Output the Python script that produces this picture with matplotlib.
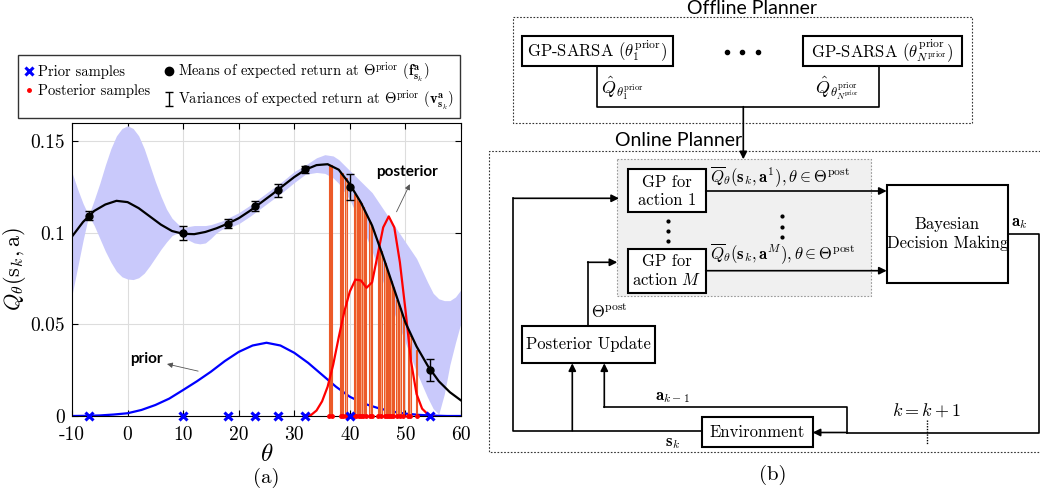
import numpy as np
import matplotlib
matplotlib.use('Agg')
import matplotlib.pyplot as plt
from matplotlib.lines import Line2D
from matplotlib.patches import Rectangle

plt.rcParams['font.family'] = 'cmr10'
plt.rcParams['mathtext.fontset'] = 'cm'
plt.rcParams['axes.unicode_minus'] = False
plt.rcParams['axes.formatter.use_mathtext'] = True

## data
# GP mean of expected return over theta
mean_x = [-10, -8, -6, -4, -2, 0, 2, 4, 6, 8, 10, 12, 14, 16, 18, 20, 22, 24, 26, 28, 30,
          32, 34, 36, 38, 40, 42, 44, 46, 48, 50, 52, 54, 56, 58, 60]
mean_y = [0.098, 0.106, 0.112, 0.1155, 0.1175, 0.1168, 0.1135, 0.109, 0.1045, 0.101, 0.0995,
          0.0993, 0.1005, 0.1025, 0.105, 0.108, 0.112, 0.1165, 0.121, 0.1258, 0.1305,
          0.1345, 0.137, 0.1375, 0.1345, 0.1265, 0.1165, 0.104, 0.087, 0.069, 0.051,
          0.038, 0.0275, 0.019, 0.013, 0.0085]

# shaded band
band_x = [-10, -9, -8, -7, -6, -5, -4, -3, -2, -1, 0, 1, 2, 3, 4, 5, 6, 7, 8, 9, 10, 11, 12,
          13, 14, 15, 16, 17, 18, 20, 22, 24, 26, 28, 30, 32, 34, 35.5, 37, 38, 40, 42, 44,
          46, 48, 50, 52, 54, 55, 56, 57, 58, 59, 60]
band_hi = [0.133, 0.124, 0.116, 0.1095, 0.118, 0.127, 0.137, 0.146, 0.153, 0.157, 0.1585,
           0.157, 0.153, 0.146, 0.137, 0.128, 0.120, 0.113, 0.108, 0.105, 0.1025, 0.1035,
           0.104, 0.104, 0.104, 0.1045, 0.1055, 0.1065, 0.108, 0.111, 0.115, 0.1195, 0.124,
           0.1285, 0.1335, 0.137, 0.141, 0.1427, 0.142, 0.140, 0.134, 0.128, 0.122, 0.113,
           0.104, 0.095, 0.086, 0.073, 0.067, 0.064, 0.063, 0.063, 0.065, 0.069]
band_lo = [0.066, 0.081, 0.096, 0.1095, 0.104, 0.097, 0.090, 0.084, 0.079, 0.076, 0.0748,
           0.0745, 0.0755, 0.078, 0.082, 0.0865, 0.091, 0.095, 0.0985, 0.1, 0.0975, 0.096,
           0.0945, 0.094, 0.0945, 0.097, 0.100, 0.102, 0.1025, 0.105, 0.109, 0.1135, 0.118,
           0.1225, 0.1275, 0.132, 0.133, 0.1325, 0.130, 0.127, 0.118, 0.105, 0.090, 0.073,
           0.056, 0.040, 0.024, 0.010, 0.004, 0.001, 0.012, 0.028, 0.040, 0.051]

# prior samples with means / variances of expected return
prior_theta = [-7, 10, 18, 23, 27, 32, 40, 54.5]
prior_mean = [0.1093, 0.100, 0.105, 0.1147, 0.1233, 0.1347, 0.125, 0.0249]
prior_err = [0.0025, 0.004, 0.0025, 0.0025, 0.0035, 0.002, 0.007, 0.006]

# prior density
prior_x = [-10, -7.5, -5, -2.5, 0, 2.5, 5, 7.5, 10, 12.5, 15, 17.5, 20, 22.5, 25, 27.5, 30,
           32.5, 35, 37.5, 40, 42.5, 45, 47.5, 50, 52.5, 55, 57.5, 60]
prior_y = [0.0, 0.0001, 0.0003, 0.0008, 0.0015, 0.0033, 0.006, 0.0095, 0.0142, 0.019, 0.0242,
           0.030, 0.035, 0.0385, 0.040, 0.0385, 0.0345, 0.029, 0.0225, 0.016, 0.0105, 0.0068,
           0.0044, 0.0025, 0.0013, 0.0006, 0.0002, 0.0, 0.0]

# posterior density
post_x = list(range(32, 56))
post_y = [0.0, 0.0005, 0.003, 0.008, 0.016, 0.028, 0.043, 0.057, 0.068, 0.0745, 0.074, 0.070,
          0.073, 0.088, 0.103, 0.109, 0.103, 0.084, 0.058, 0.030, 0.012, 0.004, 0.001, 0.0]

# posterior samples and their Q values
post_theta = [36.3, 36.7, 38.35, 38.7, 39.3, 40.8, 41.1, 41.6, 42.0, 42.4, 42.85, 43.6, 43.9,
              45.1, 45.6, 46.3, 46.6, 47.0, 47.4, 47.8, 48.5, 49.0, 49.6, 50.5, 50.8, 52.0]
post_q = [0.1372, 0.137, 0.1335, 0.1325, 0.130, 0.1215, 0.120, 0.1175, 0.1165, 0.114, 0.1105,
          0.106, 0.1035, 0.094, 0.090, 0.0835, 0.081, 0.077, 0.0735, 0.0705, 0.0635, 0.059,
          0.0525, 0.0455, 0.0435, 0.036]

xticks = [-10, 0, 10, 20, 30, 40, 50, 60]
xtick_labels = ['-10', '0', '10', '20', '30', '40', '50', '60']
yticks = [0, 0.05, 0.1, 0.15]
ytick_labels = ['0', '0.05', '0.1', '0.15']

W, H = 1040, 493
fig = plt.figure(figsize=(W / 100, H / 100), dpi=100)

# ---------- (a) plot ----------
ax = fig.add_axes([72 / W, 1 - 416 / H, 389 / W, 293 / H])
ax.fill_between(band_x, band_lo, band_hi, color='#c9c9fb', lw=0, zorder=1)
ax.plot(prior_x, prior_y, color='#0000ff', lw=1.6, zorder=2)
ax.bar(post_theta, post_q, width=0.25, facecolor='#f8b08c', edgecolor='#ec5a28', lw=0.8, zorder=3)
ax.plot(post_x, post_y, color='#ff0000', lw=1.6, zorder=4)
ax.plot(mean_x, mean_y, color='black', lw=1.6, zorder=5)
ax.errorbar(prior_theta, prior_mean, yerr=prior_err, fmt='o', color='black', ms=5,
            capsize=3, elinewidth=1, capthick=1, zorder=6)
ax.plot(post_theta, np.zeros(len(post_theta)), '.', color='red', ms=5, zorder=7, clip_on=False)
ax.plot(prior_theta, np.zeros(len(prior_theta)), 'x', color='#0000ff', ms=6, mew=2.2,
        zorder=8, clip_on=False)

ax.set_xlim(-10, 60)
ax.set_ylim(0, 0.16)
ax.set_xticks(xticks)
ax.set_xticklabels(xtick_labels)
ax.set_yticks(yticks)
ax.set_yticklabels(ytick_labels)
ax.tick_params(direction='in', top=True, right=True, labelsize=14, length=4, width=0.8)
ax.tick_params(axis='x', pad=7)
ax.tick_params(axis='y', pad=5)
ax.grid(True, color='#dddddd', lw=0.8)
ax.set_axisbelow(True)
for s in ax.spines.values():
    s.set_linewidth(0.8)
ax.set_xlabel(r'$\theta$', fontsize=18, labelpad=0)
ax.set_ylabel(r'$Q_\theta(\mathrm{s}_k,\mathrm{a})$', fontsize=16, labelpad=2)

arrow_style = dict(arrowstyle='-|>', color='#555555', lw=0.6, mutation_scale=8,
                   shrinkA=0, shrinkB=0)
ax.annotate('', xy=(7.1, 0.0284), xytext=(12.7, 0.0245), arrowprops=arrow_style)
ax.text(3.3, 0.031, 'prior', fontsize=11, fontweight='bold', family='Lato',
        ha='center', va='center')
ax.annotate('', xy=(50.8, 0.1266), xytext=(48.4, 0.1115), arrowprops=arrow_style)
ax.text(50.2, 0.1333, 'posterior', fontsize=11, fontweight='bold', family='Lato',
        ha='center', va='center')

# legend
h_prior = Line2D([], [], marker='x', color='#0000ff', ls='none', ms=6, mew=2.2)
h_post = Line2D([], [], marker='.', color='red', ls='none', ms=5)
h_mean = Line2D([], [], marker='o', color='black', ls='none', ms=6)
h_var = ax.errorbar([np.nan], [np.nan], yerr=[0.01], fmt='none', ecolor='black',
                    capsize=3, elinewidth=1, capthick=1)
leg = fig.legend([h_prior, h_post, h_mean, h_var],
                 ['Prior samples', 'Posterior samples',
                  r'Means of expected return at $\Theta^{\rm prior}$ ($\mathbf{f}^{\mathbf{a}}_{\mathbf{s}_k}$)',
                  r'Variances of expected return at $\Theta^{\rm prior}$ ($\mathbf{v}^{\mathbf{a}}_{\mathbf{s}_k}$)'],
                 ncol=2, loc='upper left', bbox_to_anchor=(18 / W, 1 - 55 / H), fontsize=10.5,
                 frameon=True, fancybox=False, edgecolor='black', handlelength=0.7,
                 handletextpad=0.3, columnspacing=0.9, borderpad=0.4, labelspacing=0.3,
                 borderaxespad=0)
leg.get_frame().set_linewidth(1.0)

fig.text(266 / W, 1 - 478 / H, '(a)', fontsize=15, ha='center', va='center')

# ---------- (b) diagram ----------
d = fig.add_axes([0, 0, 1, 1], zorder=-1)
d.set_xlim(0, W)
d.set_ylim(H, 0)
d.axis('off')
d.patch.set_alpha(0)

def box(x0, y0, x1, y1, lw=1.5, ls='-', ec='black', fc='white'):
    d.add_patch(Rectangle((x0, y0), x1 - x0, y1 - y0, lw=lw, ls=ls, ec=ec, fc=fc))

def arrow(x0, y0, x1, y1):
    d.annotate('', xy=(x1, y1), xytext=(x0, y0),
               arrowprops=dict(arrowstyle='-|>', color='black', lw=1.2, mutation_scale=11,
                               shrinkA=0, shrinkB=0))

dotted = (0, (1.5, 1.5))
fs = 12
# offline planner
box(513.3, 17.3, 972.3, 122.7, lw=0.8, ls=dotted, fc='none', ec='#333333')
d.text(752, 8, 'Offline Planner', family='Lato', fontsize=14, ha='center', va='center')
box(522.3, 36, 672.7, 65.7)
box(802.7, 36, 961.7, 65.7)
d.text(597.5, 51, r'GP-SARSA ($\theta_1^{\rm prior}$)', fontsize=fs, ha='center', va='center')
d.text(882.2, 51, r'GP-SARSA ($\theta_{N^{\rm prior}}^{\rm prior}$)', fontsize=fs,
       ha='center', va='center')
d.plot([726.7, 742.3, 758.3], [51.7, 51.7, 51.7], 'o', color='black', ms=3)
d.plot([597.3, 597.3, 879, 879], [65.7, 106.7, 106.7, 65.7], color='black', lw=1.2)
d.text(601, 88, r'$\hat{Q}_{\theta_1^{\rm prior}}$', fontsize=13, ha='left', va='center')
d.text(815, 88, r'$\hat{Q}_{\theta^{\rm prior}_{N^{\rm prior}}}$', fontsize=13,
       ha='left', va='center')

# online planner
d.plot([1040, 489.3, 489.3, 1040], [151, 151, 452.3, 452.3], color='#333333', lw=0.8, ls=dotted)
d.text(679, 141, 'Online Planner', family='Lato', fontsize=14, ha='center', va='center',
       bbox=dict(fc='white', ec='none', pad=0.5))
arrow(743.3, 106.7, 743.3, 159.3)
box(616.7, 159.3, 871, 296, lw=0.8, ls=dotted, ec='#999999', fc='#f0f0f0')
box(628.3, 169.3, 705.7, 212.3)
box(628.3, 249, 705.7, 292.7)
d.text(667, 191, 'GP for\naction 1', fontsize=fs, ha='center', va='center', linespacing=1.2)
d.text(667, 271, 'GP for\naction $M$', fontsize=fs, ha='center', va='center', linespacing=1.2)
d.plot([668.3] * 3, [220.7, 230.7, 240.7], 'o', color='black', ms=2)
d.plot([782] * 3, [216, 227, 237], 'o', color='black', ms=2)
d.text(710, 177, r'$\overline{Q}_\theta(\mathbf{s}_k,\mathbf{a}^1),\theta\in\Theta^{\rm post}$',
       fontsize=fs, ha='left', va='center')
d.text(710, 254, r'$\overline{Q}_\theta(\mathbf{s}_k,\mathbf{a}^M),\theta\in\Theta^{\rm post}$',
       fontsize=fs, ha='left', va='center')
arrow(705.7, 191, 886.7, 191)
arrow(705.7, 270.7, 886.7, 270.7)
box(886.7, 185, 1008.3, 282.7)
d.text(947.5, 234, 'Bayesian\nDecision Making', fontsize=fs, ha='center', va='center',
       linespacing=1.3)
d.text(1011, 231, r'$\mathbf{a}_k$', fontsize=fs, ha='left', va='bottom')
d.plot([1008.3, 1038.7, 1038.7, 847.3], [234, 234, 432.5, 432.5], color='black', lw=1.2)
arrow(847.3, 432.5, 812.7, 432.5)

box(701.7, 417.3, 812.7, 446.7)
d.text(757, 432, 'Environment', fontsize=fs, ha='center', va='center')
d.text(665, 443, r'$\mathbf{s}_k$', fontsize=fs, ha='left', va='center')
d.plot([847.3, 847.3, 604.3], [432.5, 407.3, 407.3], color='black', lw=1.2)
arrow(604.3, 407.3, 604.3, 363.3)
d.text(655, 397, r'$\mathbf{a}_{k-1}$', fontsize=fs, ha='left', va='center')
d.plot([701.7, 513.3, 513.3], [430.7, 430.7, 198.3], color='black', lw=1.2)
arrow(513.3, 198.3, 619, 198.3)
arrow(572.3, 430.7, 572.3, 363.3)

box(521.7, 325.7, 655, 363.3)
d.text(588.3, 344.5, 'Posterior Update', fontsize=fs, ha='center', va='center')
d.plot([587.7, 587.7], [325.7, 262.3], color='black', lw=1.2)
arrow(587.7, 262.3, 617.3, 262.3)
d.text(591, 312, r'$\Theta^{\rm post}$', fontsize=fs, ha='left', va='center')

d.text(891.7, 410, r'$k=k+1$', fontsize=13, ha='left', va='center')
d.plot([926.7, 926.7], [420, 445], color='black', lw=1.0, ls=(0, (1, 1)))
d.text(772.5, 475, '(b)', fontsize=15, ha='center', va='center')

fig.savefig('out.png', dpi=100)
